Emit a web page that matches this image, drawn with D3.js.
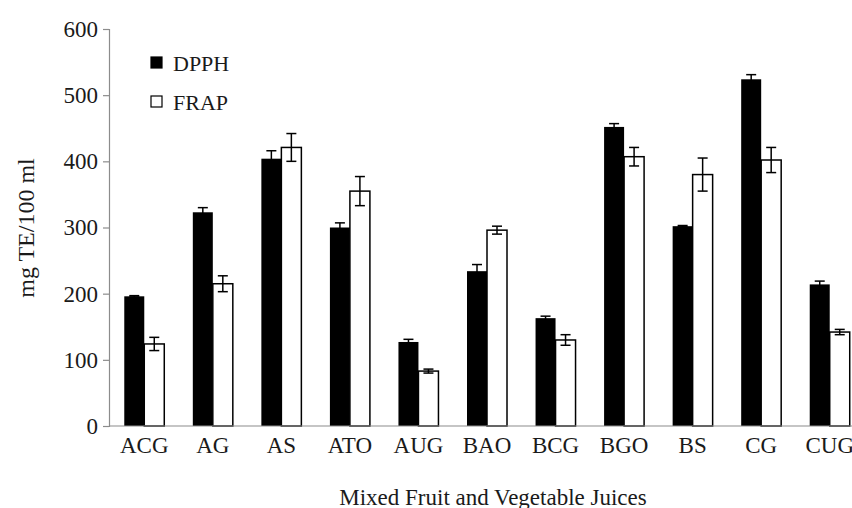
<!DOCTYPE html>
<html>
<head>
<meta charset="utf-8">
<script src="https://cdn.jsdelivr.net/npm/d3@7"></script>
<style>
  body { margin: 0; background: #fff; }
  text { font-family: "Liberation Serif", "DejaVu Serif", serif; fill: #1a1a1a; }
</style>
</head>
<body>
<script>
// Juice samples and their antioxidant capacity (mg TE/100 ml)
var categories = ["ACG", "AG", "AS", "ATO", "AUG", "BAO", "BCG", "BGO", "BS", "CG", "CUG"];
var dpph     = [196, 323, 404, 300, 127, 234, 163, 452, 302, 524, 214];
var dpph_err = [1, 7, 12, 7, 4, 10, 3, 5, 1, 7, 5];
var frap     = [124, 215, 421, 355, 83, 296, 130, 407, 380, 402, 142];
var frap_err = [10, 12, 21, 22, 3, 6, 8, 14, 25, 19, 4];
var series_names = ["DPPH", "FRAP"];
var y_ticks = [0, 100, 200, 300, 400, 500, 600];

var width = 852, height = 508;

var svg = d3.select("body").append("svg")
  .attr("width", width)
  .attr("height", height);

// Scales
var x = d3.scaleBand().domain(categories).range([110, 864]).padding(0);
var sub = d3.scaleBand().domain(series_names).range([-20, 20]).padding(0);
var y = d3.scaleLinear().domain([0, 600]).range([426, 29]);

var rows = categories.map(function(c, i) {
  return {
    cat: c,
    vals: [
      { key: "DPPH", v: dpph[i], e: dpph_err[i] },
      { key: "FRAP", v: frap[i], e: frap_err[i] }
    ]
  };
});

// Y axis
var yAxis = svg.append("g")
  .attr("transform", "translate(109,0)")
  .call(d3.axisLeft(y).tickValues(y_ticks).tickSize(6).tickPadding(5));
yAxis.select(".domain").attr("stroke", "#8c8c8c").attr("stroke-width", 1.2);
yAxis.selectAll(".tick line").attr("stroke", "#8c8c8c").attr("stroke-width", 1.2);
yAxis.selectAll(".tick text")
  .attr("font-size", 23)
  .attr("font-family", "Liberation Serif, serif")
  .attr("fill", "#1a1a1a");

// Bars
var groups = svg.append("g").selectAll("g")
  .data(rows).enter()
  .append("g")
  .attr("transform", function(d) { return "translate(" + (x(d.cat) + x.bandwidth() / 2) + ",0)"; });

groups.selectAll("rect")
  .data(function(d) { return d.vals; }).enter()
  .append("rect")
  .attr("x", function(d) { return sub(d.key); })
  .attr("width", sub.bandwidth())
  .attr("y", function(d) { return y(d.v); })
  .attr("height", function(d) { return y(0) - y(d.v); })
  .attr("fill", function(d) { return d.key === "DPPH" ? "#000" : "#fff"; })
  .attr("stroke", "#000")
  .attr("stroke-width", function(d) { return d.key === "DPPH" ? 0 : 1.5; });

// Error bars
var err = groups.selectAll("g.err")
  .data(function(d) { return d.vals; }).enter()
  .append("g")
  .attr("class", "err")
  .attr("stroke", "#000")
  .attr("stroke-width", 1.5);

function cx(d) { return sub(d.key) + sub.bandwidth() / 2; }

err.append("line")
  .attr("x1", cx).attr("x2", cx)
  .attr("y1", function(d) { return y(d.v + d.e); })
  .attr("y2", function(d) { return y(d.v - d.e); });
err.append("line")
  .attr("x1", function(d) { return cx(d) - 5; })
  .attr("x2", function(d) { return cx(d) + 5; })
  .attr("y1", function(d) { return y(d.v + d.e); })
  .attr("y2", function(d) { return y(d.v + d.e); });
err.append("line")
  .attr("x1", function(d) { return cx(d) - 5; })
  .attr("x2", function(d) { return cx(d) + 5; })
  .attr("y1", function(d) { return y(d.v - d.e); })
  .attr("y2", function(d) { return y(d.v - d.e); });

// X axis (no ticks)
var xAxis = svg.append("g")
  .attr("transform", "translate(0,426)")
  .call(d3.axisBottom(x).tickSize(0).tickPadding(11));
xAxis.select(".domain").attr("stroke", "#8c8c8c").attr("stroke-width", 1.2)
  .attr("d", "M109,0H" + width);
xAxis.selectAll(".tick text")
  .attr("font-size", 23)
  .attr("font-family", "Liberation Serif, serif")
  .attr("fill", "#1a1a1a");

// Axis titles
svg.append("text")
  .attr("x", 493)
  .attr("y", 505)
  .attr("text-anchor", "middle")
  .attr("font-size", 23)
  .text("Mixed Fruit and Vegetable Juices");

svg.append("text")
  .attr("transform", "translate(34,228) rotate(-90)")
  .attr("text-anchor", "middle")
  .attr("font-size", 24)
  .text("mg TE/100 ml");

// Legend
var legend = svg.append("g").selectAll("g")
  .data(series_names).enter()
  .append("g")
  .attr("transform", function(d, i) { return "translate(151," + (57 + i * 39) + ")"; });
legend.append("rect")
  .attr("width", 11).attr("height", 11)
  .attr("fill", function(d) { return d === "DPPH" ? "#000" : "#fff"; })
  .attr("stroke", "#000")
  .attr("stroke-width", 1.2);
legend.append("text")
  .attr("x", 22)
  .attr("y", 14)
  .attr("font-size", 22)
  .text(function(d) { return d; });
</script>
</body>
</html>
